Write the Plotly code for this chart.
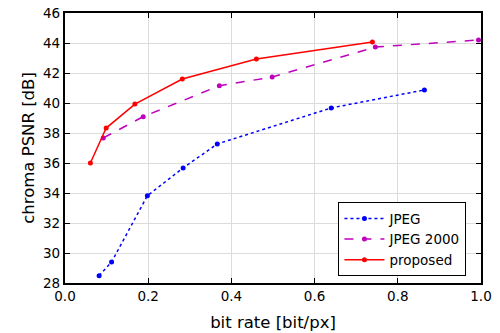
import plotly.graph_objects as go

jpeg_x = [0.082, 0.112, 0.198, 0.284, 0.366, 0.640, 0.864]
jpeg_y = [28.49, 29.40, 33.82, 35.67, 37.27, 39.67, 40.87]
j2k_x = [0.092, 0.188, 0.371, 0.498, 0.746, 0.994]
j2k_y = [37.67, 39.09, 41.15, 41.73, 43.73, 44.20]
prop_x = [0.061, 0.099, 0.168, 0.282, 0.460, 0.739]
prop_y = [36.00, 38.33, 39.93, 41.60, 42.93, 44.07]

fig = go.Figure()
fig.add_trace(go.Scatter(x=jpeg_x, y=jpeg_y, mode="lines+markers", name="JPEG",
                         line=dict(color="#0000ff", width=1.5, dash="dot"),
                         marker=dict(size=5, color="#0000ff")))
fig.add_trace(go.Scatter(x=j2k_x, y=j2k_y, mode="lines+markers", name="JPEG 2000",
                         line=dict(color="#bf00bf", width=1.5, dash="dash"),
                         marker=dict(size=5, color="#bf00bf")))
fig.add_trace(go.Scatter(x=prop_x, y=prop_y, mode="lines+markers", name="proposed",
                         line=dict(color="#ff0000", width=1.5),
                         marker=dict(size=5, color="#ff0000")))

axis_common = dict(showline=True, linecolor="black", linewidth=2.3, mirror="ticks",
                   ticks="inside", ticklen=5, tickcolor="black", tickwidth=1,
                   showgrid=True, gridcolor="#dcdcdc", gridwidth=1, zeroline=False,
                   automargin=False,
                   tickfont=dict(family="DejaVu Sans", size=13.5, color="black"))

fig.update_xaxes(range=[0, 1.0], dtick=0.2, tickformat=".1f",
                 title=dict(text="bit rate [bit/px]", font=dict(family="DejaVu Sans", size=16.5, color="black"), standoff=13),
                 **axis_common)
fig.update_yaxes(range=[28, 46], dtick=2,
                 title=dict(text="chroma PSNR [dB]", font=dict(family="DejaVu Sans", size=16.5, color="black"), standoff=4),
                 **axis_common)

fig.update_layout(
    width=500, height=333,
    margin=dict(l=65, r=19, t=13, b=50),
    paper_bgcolor="white", plot_bgcolor="white",
    font=dict(family="DejaVu Sans", color="black"),
    legend=dict(x=0.965, y=0.025, xanchor="right", yanchor="bottom",
                bordercolor="black", borderwidth=1, bgcolor="white",
                font=dict(family="DejaVu Sans", size=13.5, color="black"),
                itemwidth=40, tracegroupgap=0),
)

fig.write_html("out.html")
